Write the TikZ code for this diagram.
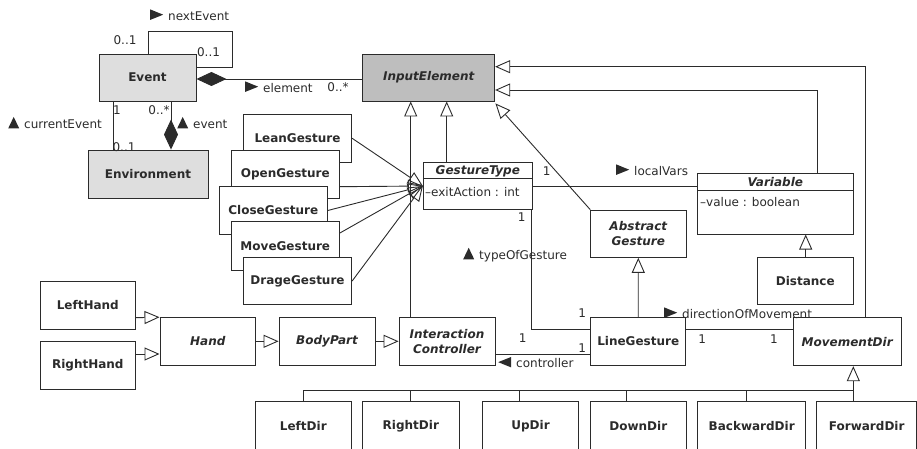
\documentclass[tikz,border=0pt]{standalone}
\usepackage{fontspec}
\setmainfont{DejaVu Sans}
\usetikzlibrary{arrows.meta,calc}

\definecolor{ink}{HTML}{2B2B2B}
\definecolor{lightfill}{HTML}{DEDEDE}
\definecolor{darkfill}{HTML}{BEBEBE}

% small filled reading-direction markers for association names
\newcommand\dirRight{\tikz[baseline=-0.5pt]\fill[ink] (0,0) -- (0,10.5pt) -- (13pt,5.25pt) -- cycle;\hspace{5pt}}
\newcommand\dirLeft{\tikz[baseline=-0.5pt]\fill[ink] (13pt,0) -- (13pt,10.5pt) -- (0,5.25pt) -- cycle;\hspace{5pt}}
\newcommand\dirUp{\tikz[baseline=-0.5pt]\fill[ink] (0,0) -- (11pt,0) -- (5.5pt,11.5pt) -- cycle;\hspace{5pt}}

\begin{document}
\begin{tikzpicture}[x=1pt,y=-1pt,
  cls/.style={draw=ink, line width=0.9pt, fill=white, inner sep=0pt, text=ink,
    font=\fontsize{12}{14}\selectfont\bfseries},
  abscls/.style={cls, align=center, font=\fontsize{12}{14.5}\selectfont\bfseries\itshape},
  lbl/.style={font=\fontsize{12}{13.5}\selectfont, text=ink, inner sep=0pt},
  conn/.style={draw=ink, line width=0.9pt},
  gen/.style={conn, line join=miter, -{Triangle[open, length=15pt, width=13pt]}},
  comp/.style={conn, {Diamond[length=30pt, width=14pt]}-},
]
\useasboundingbox (0,0) rectangle (917,449);
\clip (0,0) rectangle (917,449);

% ---------- classes ----------
\node[cls, fill=lightfill, minimum width=97pt, minimum height=47pt] (event) at (147.5,77.5) {Event};
\node[cls, fill=lightfill, minimum width=120pt, minimum height=48pt] (env) at (148,174) {Environment};
\node[abscls, fill=darkfill, minimum width=132pt, minimum height=47pt] (inel) at (428.7,77.5) {InputElement};

\node[cls, minimum width=108.4pt, minimum height=48pt] (lean) at (297.5,138.3) {LeanGesture};
\node[cls, minimum width=107.3pt, minimum height=47.6pt] (open) at (285.3,174.5) {OpenGesture};
\node[cls, minimum width=108pt, minimum height=47.6pt] (close) at (273.3,210.5) {CloseGesture};
\node[cls, minimum width=107.3pt, minimum height=48.3pt] (move) at (285.3,245.8) {MoveGesture};
\node[cls, minimum width=108.4pt, minimum height=46.6pt] (drage) at (297.5,281) {DrageGesture};

% GestureType with one attribute compartment
\node[cls, minimum width=109pt, minimum height=46.6pt] (gtype) at (477.8,186) {};
\draw[conn] ($(gtype.north west)+(0,16.6)$) -- ($(gtype.north east)+(0,16.6)$);
\node[font=\fontsize{12}{13.5}\selectfont\bfseries\itshape, text=ink, inner sep=0pt] (gtname) at (477.8,171.3) {GestureType};
\node[lbl, anchor=west] (gtattr) at (425,192) {–exitAction : int};

% Variable with one attribute compartment
\node[cls, minimum width=155.3pt, minimum height=60.7pt] (var) at (775.3,203.7) {};
\draw[conn] ($(var.north west)+(0,17.4)$) -- ($(var.north east)+(0,17.4)$);
\node[font=\fontsize{12}{13.5}\selectfont\bfseries\itshape, text=ink, inner sep=0pt] (varname) at (775.3,182.3) {Variable};
\node[lbl, anchor=west] (varattr) at (700,202.5) {–value : boolean};

\node[abscls, minimum width=95.3pt, minimum height=47.3pt] (ag) at (638.3,233.7) {Abstract\\Gesture};
\node[cls, minimum width=95.3pt, minimum height=47.3pt] (dist) at (805.3,280.7) {Distance};

\node[cls, minimum width=95pt, minimum height=47.3pt] (lg) at (638.2,341.3) {LineGesture};
\node[abscls, minimum width=96pt, minimum height=48pt] (ic) at (447,341.7) {Interaction\\Controller};
\node[abscls, minimum width=96pt, minimum height=47.3pt] (body) at (327,341.3) {BodyPart};
\node[abscls, minimum width=95.7pt, minimum height=47.3pt] (hand) at (207.8,341.3) {Hand};
\node[cls, minimum width=95.7pt, minimum height=47.6pt] (lhand) at (87.8,305.5) {LeftHand};
\node[cls, minimum width=95.7pt, minimum height=48.3pt] (rhand) at (87.8,365.2) {RightHand};
\node[abscls, minimum width=107.7pt, minimum height=48pt] (mdir) at (847.2,341.7) {MovementDir};

\node[cls, minimum width=96.7pt, minimum height=50pt] (ldir) at (303.3,426) {LeftDir};
\node[cls, minimum width=96.3pt, minimum height=50pt] (rdir) at (410.8,426) {RightDir};
\node[cls, minimum width=95.6pt, minimum height=50pt] (udir) at (530.5,426) {UpDir};
\node[cls, minimum width=95.3pt, minimum height=50pt] (ddir) at (638.3,426) {DownDir};
\node[cls, minimum width=108pt, minimum height=50pt] (bdir) at (751.7,426) {BackwardDir};
\node[cls, minimum width=100pt, minimum height=50pt] (fdir) at (866.7,426) {ForwardDir};

% ---------- generalizations ----------
\draw[gen] ($(var.north)+(41.7,0)$) |- ($(inel.east)+(0,12.5)$);
\draw[gen] ($(mdir.north)+(17.8,0)$) |- ($(inel.east)+(0,-10.8)$);
\draw[gen] ($(ic.north)+(-36.3,0)$) -- ($(inel.south)+(-18,0)$);
\draw[gen] ($(gtype.north)+(-31.1,0)$) -- ($(inel.south)+(18,0)$);
\draw[gen] (ag.north west) -- ($(inel.south east)+(0.3,2)$);

\draw[gen] (lean.east) -- (gtype.west);
\draw[gen] ($(open.east)+(0,12.2)$) -- (gtype.west);
\draw[gen] (close.east) -- (gtype.west);
\draw[gen] ($(move.east)+(0,-12.5)$) -- (gtype.west);
\draw[gen] (drage.east) -- (gtype.west);

\draw[gen] (lg.north) -- (ag.south);
\draw[gen] ($(dist.north)+(0.4,0)$) -- ($(var.south)+(30.4,0)$);

\draw[gen] ($(lhand.east)+(0,12.2)$) -- (hand.north west);
\draw[gen] ($(rhand.east)+(0,-11.2)$) -- ($(hand.west)+(0,12.7)$);
\draw[gen] (hand.east) -- (hand.east -| body.west);
\draw[gen] (body.east) -- (body.east -| ic.west);

% direction subclasses share one bus into MovementDir
\coordinate (busR) at (853.3,390);
\draw[gen] ($(fdir.north)+(-13.4,0)$) -- ($(mdir.south)+(6.1,0)$);
\draw[conn] (ldir.north) |- (busR);
\draw[conn] (rdir.north) -- ++(0,-11);
\draw[conn] ($(udir.north)+(-11.5,0)$) -- ++(0,-11);
\draw[conn] ($(ddir.north)+(-11.6,0)$) -- ++(0,-11);
\draw[conn] ($(bdir.north)+(-5.7,0)$) -- ++(0,-11);

% ---------- associations ----------
\coordinate (loopc) at (232,31);
\draw[conn] ($(event.north)+(0.5,0)$) |- (loopc) |- ($(event.east)+(0,-10.5)$);
\draw[comp] ($(event.east)+(0,1.5)$) -- ($(inel.west)+(0,1.5)$);
\draw[conn] ($(event.south)+(-34.5,0)$) -- ($(env.north)+(-35,0)$);
\draw[comp] ($(env.north)+(23,0)$) -- ($(event.south)+(23.5,0)$);

\draw[conn] (gtype.east) -- (gtype.east -| var.west);
\draw[conn] ($(gtype.south east)+(-1.3,0)$) |- ($(lg.west)+(0,-12)$);
\draw[conn] ($(ic.east)+(0,12.3)$) -- ($(lg.west)+(0,12.7)$);
\draw[conn] ($(lg.east)+(0,-12)$) -- ($(mdir.west)+(0,-12.4)$);

% ---------- role names and multiplicities ----------
\node[lbl, anchor=west] (nextlbl) at (150,15) {\dirRight nextEvent};
\node[lbl] (m1) at (125,40) {0..1};
\node[lbl] (m2) at (208.5,52) {0..1};
\node[lbl, anchor=west] (ellbl) at (245,87) {\dirRight element};
\node[lbl] (m3) at (338,87) {0..*};
\node[lbl, anchor=west] (celbl) at (8,123) {\dirUp currentEvent};
\node[lbl] (m4) at (117,110) {1};
\node[lbl] (m5) at (124,147) {0..1};
\node[lbl] (m6) at (159,110) {0..*};
\node[lbl, anchor=west] (evlbl) at (177,123) {\dirUp event};

\node[lbl] (m7) at (546.7,171) {1};
\node[lbl, anchor=west] (lvlbl) at (616,170) {\dirRight localVars};
\node[lbl] (m8) at (521.7,217) {1};
\node[lbl] (m9) at (582.3,313.3) {1};
\node[lbl, anchor=west] (toglbl) at (463,255) {\dirUp typeOfGesture};
\node[lbl] (m10) at (522.7,338) {1};
\node[lbl] (m11) at (582.3,348) {1};
\node[lbl, anchor=west] (ctllbl) at (498,362.5) {\dirLeft controller};
\node[lbl] (m12) at (702.3,339) {1};
\node[lbl] (m13) at (774,339) {1};
\node[lbl, anchor=west] (domlbl) at (664,313) {\dirRight directionOfMovement};
\end{tikzpicture}
\end{document}
